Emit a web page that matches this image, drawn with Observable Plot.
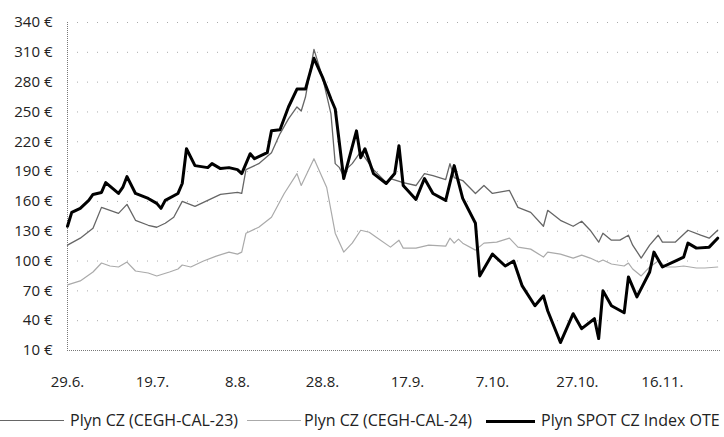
<!DOCTYPE html>
<html>
<head>
<meta charset="utf-8">
<script src="https://cdn.jsdelivr.net/npm/d3@7"></script>
<script src="https://cdn.jsdelivr.net/npm/@observablehq/plot@0.6"></script>
<style>
  html, body { margin: 0; padding: 0; background: #fff; }
  body { width: 724px; height: 437px; overflow: hidden; font-family: "Open Sans", sans-serif; }
  #wrap { position: relative; width: 724px; height: 437px; overflow: hidden; }
  .lg { position: absolute; top: 410px; font-size: 16px; color: #222; white-space: nowrap; line-height: 20px; }
  .sw { position: absolute; top: 421px; height: 0; }
</style>
</head>
<body>
<div id="wrap"></div>
<script>
const seriesNames = ["Plyn CZ (CEGH-CAL-23)", "Plyn CZ (CEGH-CAL-24)", "Plyn SPOT CZ Index OTE"];

const cal23Dates = ["2022-06-29","2022-07-02","2022-07-05","2022-07-07","2022-07-09","2022-07-11","2022-07-13","2022-07-15","2022-07-18","2022-07-20","2022-07-22","2022-07-24","2022-07-26","2022-07-29","2022-08-01","2022-08-04","2022-08-08","2022-08-09","2022-08-10","2022-08-13","2022-08-16","2022-08-18","2022-08-20","2022-08-22","2022-08-23","2022-08-24","2022-08-26","2022-08-28","2022-08-30","2022-08-31","2022-09-01","2022-09-02","2022-09-03","2022-09-04","2022-09-06","2022-09-09","2022-09-12","2022-09-13","2022-09-16","2022-09-19","2022-09-21","2022-09-23","2022-09-26","2022-09-27","2022-09-28","2022-09-30","2022-10-03","2022-10-05","2022-10-07","2022-10-11","2022-10-13","2022-10-16","2022-10-19","2022-10-20","2022-10-23","2022-10-26","2022-10-28","2022-10-30","2022-11-01","2022-11-02","2022-11-04","2022-11-06","2022-11-08","2022-11-09","2022-11-11","2022-11-13","2022-11-15","2022-11-16","2022-11-19","2022-11-20","2022-11-22","2022-11-25","2022-11-27","2022-11-29"];
const cal23Values = [116,123,133,154,151,148,157,141,136,134,138,144,160,155,161,167,169,168,192,198,209,228,243,255,251,265,313,285,248,198,194,185,194,198,210,192,179,183,179,176,188,186,182,198,184,181,168,176,168,171,154,149,135,151,141,135,140,131,119,128,121,121,126,116,103,116,126,119,119,123,131,126,123,131];

const cal24Dates = ["2022-06-29","2022-07-02","2022-07-05","2022-07-07","2022-07-09","2022-07-11","2022-07-13","2022-07-15","2022-07-18","2022-07-20","2022-07-23","2022-07-25","2022-07-26","2022-07-28","2022-07-31","2022-08-03","2022-08-06","2022-08-08","2022-08-09","2022-08-10","2022-08-13","2022-08-16","2022-08-19","2022-08-22","2022-08-23","2022-08-26","2022-08-29","2022-08-31","2022-09-02","2022-09-04","2022-09-06","2022-09-08","2022-09-10","2022-09-13","2022-09-15","2022-09-16","2022-09-19","2022-09-22","2022-09-26","2022-09-27","2022-09-28","2022-09-29","2022-09-30","2022-10-03","2022-10-05","2022-10-08","2022-10-11","2022-10-13","2022-10-16","2022-10-19","2022-10-20","2022-10-23","2022-10-26","2022-10-28","2022-10-30","2022-11-01","2022-11-02","2022-11-04","2022-11-07","2022-11-08","2022-11-09","2022-11-11","2022-11-13","2022-11-15","2022-11-17","2022-11-19","2022-11-21","2022-11-24","2022-11-26","2022-11-29"];
const cal24Values = [76,80,89,98,95,94,99,90,88,85,89,92,96,94,100,105,109,107,109,128,134,144,168,188,176,203,174,128,109,118,131,129,123,114,121,113,113,116,115,123,118,122,118,111,118,119,123,114,112,104,109,107,103,106,103,99,101,97,95,98,92,85,94,100,94,94,95,93,93,94];

const spotDates = ["2022-06-29","2022-06-30","2022-07-02","2022-07-04","2022-07-05","2022-07-07","2022-07-08","2022-07-11","2022-07-12","2022-07-13","2022-07-15","2022-07-18","2022-07-20","2022-07-21","2022-07-22","2022-07-25","2022-07-26","2022-07-27","2022-07-29","2022-08-01","2022-08-02","2022-08-04","2022-08-06","2022-08-08","2022-08-09","2022-08-11","2022-08-12","2022-08-15","2022-08-16","2022-08-18","2022-08-20","2022-08-22","2022-08-24","2022-08-26","2022-08-28","2022-08-30","2022-08-31","2022-09-02","2022-09-05","2022-09-06","2022-09-07","2022-09-09","2022-09-12","2022-09-14","2022-09-15","2022-09-16","2022-09-19","2022-09-21","2022-09-23","2022-09-26","2022-09-28","2022-09-30","2022-10-03","2022-10-04","2022-10-07","2022-10-10","2022-10-12","2022-10-14","2022-10-17","2022-10-19","2022-10-20","2022-10-23","2022-10-26","2022-10-28","2022-10-31","2022-11-01","2022-11-02","2022-11-04","2022-11-07","2022-11-08","2022-11-10","2022-11-13","2022-11-14","2022-11-16","2022-11-19","2022-11-21","2022-11-22","2022-11-24","2022-11-27","2022-11-29"];
const spotValues = [135,149,153,161,167,169,179,168,174,185,168,163,158,153,161,168,178,213,196,194,198,193,194,192,188,208,203,209,231,232,255,273,273,304,285,263,253,183,231,204,213,188,178,188,216,176,162,183,168,161,196,163,138,85,107,95,100,75,55,65,50,18,47,32,42,22,70,55,48,84,64,89,109,94,100,104,118,113,114,123];

const xTickDates = ["2022-06-29","2022-07-19","2022-08-08","2022-08-28","2022-09-17","2022-10-07","2022-10-27","2022-11-16"];
const yTicks = [10,40,70,100,130,160,190,220,250,280,310,340];

const toRows = (dates, values) => dates.map((d, i) => ({date: new Date(d + "T00:00:00Z"), value: values[i]}));
const cal23 = toRows(cal23Dates, cal23Values);
const cal24 = toRows(cal24Dates, cal24Values);
const spot = toRows(spotDates, spotValues);
const xTicks = xTickDates.map(d => new Date(d + "T00:00:00Z"));
const x0 = new Date("2022-06-29T00:00:00Z");
const x1 = new Date("2022-11-29T16:00:00Z");

const chart = Plot.plot({
  width: 724,
  height: 400,
  marginLeft: 67,
  marginRight: 4,
  marginTop: 22,
  marginBottom: 50,
  style: {fontFamily: "Open Sans, sans-serif", fontSize: "15px", color: "#222", background: "#fff"},
  x: {type: "utc", domain: [x0, x1], label: null},
  y: {domain: [10, 340], label: null},
  marks: [
    Plot.gridY(yTicks.filter(v => v > 10), {stroke: "#888", strokeOpacity: 0.7, strokeDasharray: "1,9"}),
    Plot.ruleY([10], {stroke: "#777", strokeDasharray: "1,1"}),
    Plot.ruleX([x0], {stroke: "#777", strokeDasharray: "1,1"}),
    Plot.axisY({ticks: yTicks, tickFormat: d => d + " €", tickSize: 0, tickPadding: 15, fontSize: 15, label: null}),
    Plot.axisX({ticks: xTicks, tickFormat: d => d.getUTCDate() + "." + (d.getUTCMonth() + 1) + ".", tickSize: 0, tickPadding: 26, fontSize: 15, label: null}),
    Plot.line(cal24, {x: "date", y: "value", stroke: "#aaa", strokeWidth: 1.2}),
    Plot.line(cal23, {x: "date", y: "value", stroke: "#666", strokeWidth: 1.3}),
    Plot.line(spot, {x: "date", y: "value", stroke: "#000", strokeWidth: 3})
  ]
});

const wrap = document.getElementById("wrap");
wrap.appendChild(chart);

const legendItems = [
  {name: seriesNames[0], color: "#666", w: 1.3, swLeft: 0, swWidth: 64, textLeft: 70},
  {name: seriesNames[1], color: "#aaa", w: 1.2, swLeft: 247, swWidth: 54, textLeft: 304},
  {name: seriesNames[2], color: "#000", w: 3, swLeft: 486, swWidth: 49, textLeft: 541}
];
for (const it of legendItems) {
  const sw = document.createElement("div");
  sw.className = "sw";
  sw.style.left = it.swLeft + "px";
  sw.style.width = it.swWidth + "px";
  sw.style.borderTop = it.w + "px solid " + it.color;
  sw.style.marginTop = (-it.w / 2) + "px";
  wrap.appendChild(sw);
  const t = document.createElement("div");
  t.className = "lg";
  t.style.left = it.textLeft + "px";
  t.textContent = it.name;
  wrap.appendChild(t);
}
</script>
</body>
</html>
